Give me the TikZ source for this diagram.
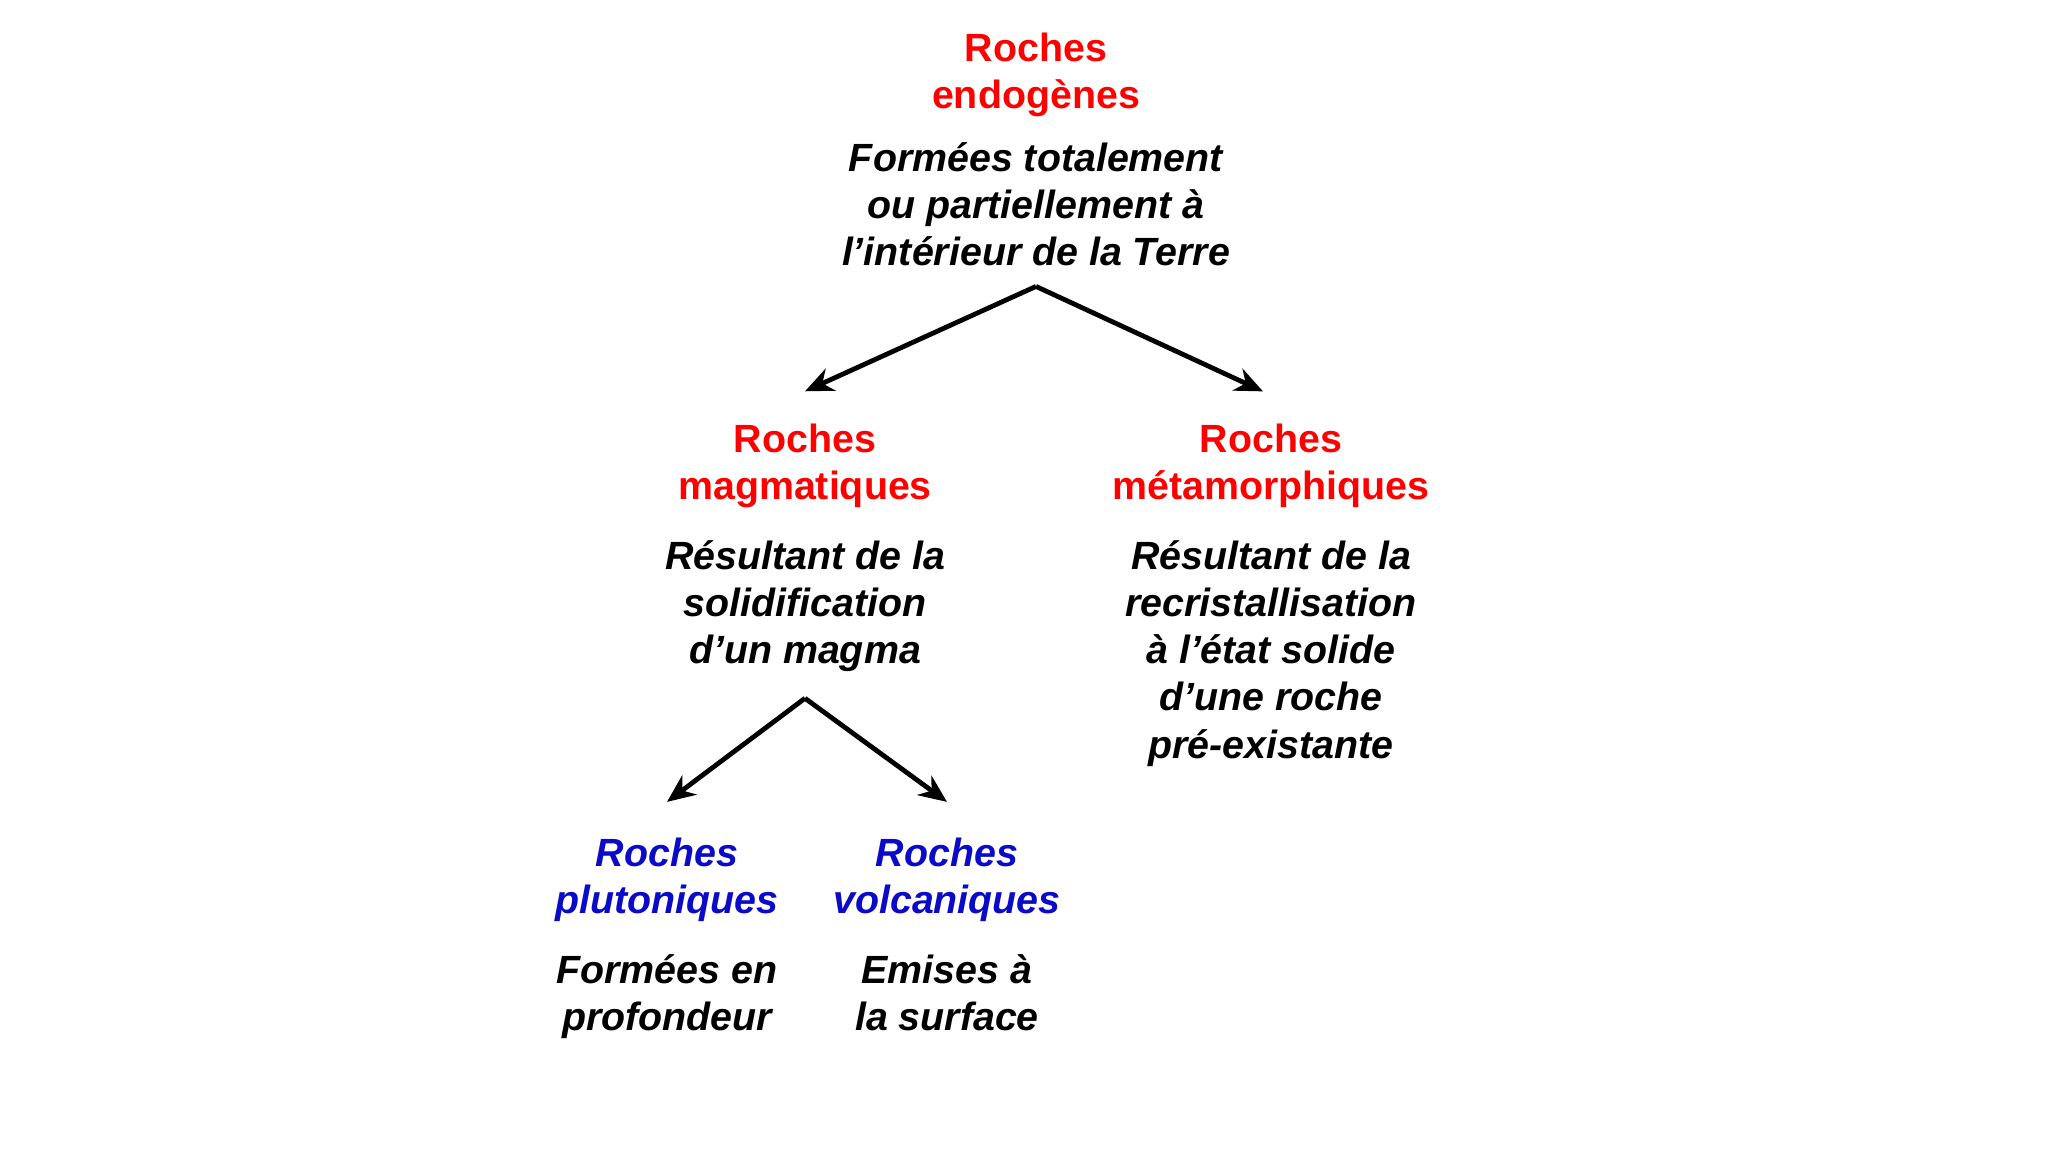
\documentclass[tikz,border=0pt]{standalone}
\usepackage{fontspec}
\setmainfont{Liberation Sans}
\usetikzlibrary{arrows.meta,positioning}
\definecolor{rougecolor}{RGB}{255,0,0}
\definecolor{bleucolor}{RGB}{10,10,200}

\begin{document}
\begin{tikzpicture}[
    famille/.style={align=center, inner sep=0pt, font=\fontsize{11.2}{13.4}\selectfont\bfseries, text=rougecolor},
    sousfamille/.style={famille, font=\fontsize{11.2}{13.4}\selectfont\bfseries\itshape, text=bleucolor},
    definition/.style={famille, font=\fontsize{11.2}{13.4}\selectfont\bfseries\itshape, text=black},
    branche/.style={-{Stealth[length=0.28cm,width=0.24cm,inset=0.09cm]}, line width=0.048cm, black}
]
\useasboundingbox (0,0) rectangle (20.48,11.52);

% Familles
\node[famille] (endo) at (10.36,10.775) {Roches\\endogènes};
\node[definition] (endodef) at (10.36,9.48) {Formées totalement\\ou partiellement à\\l’intérieur de la Terre};
\node[famille] (mag) at (8.05,6.86) {Roches\\magmatiques};
\node[famille] (meta) at (12.71,6.86) {Roches\\métamorphiques};
\node[definition] (magdef) at (8.05,5.46) {Résultant de la\\solidification\\d’un magma};
\node[definition] (metadef) at (12.71,4.985) {Résultant de la\\recristallisation\\à l’état solide\\d’une roche\\pré-existante};
\node[sousfamille] (pluto) at (6.67,2.725) {Roches\\plutoniques};
\node[sousfamille] (volca) at (9.47,2.725) {Roches\\volcaniques};
\node[definition] (plutodef) at (6.67,1.555) {Formées en\\profondeur};
\node[definition] (volcadef) at (9.47,1.595) {Emises à\\la surface};

% Branches
\coordinate (fork1) at ([yshift=-0.2cm]endodef.south);
\coordinate (fork2) at ([yshift=-0.26cm]magdef.south);
\draw[branche] (fork1) -- ([yshift=0.32cm]mag.north);
\draw[branche] (fork1) -- ([xshift=-0.08cm,yshift=0.32cm]meta.north);
\draw[branche] (fork2) -- ([yshift=0.35cm]pluto.north);
\draw[branche] (fork2) -- ([yshift=0.35cm]volca.north);

\end{tikzpicture}
\end{document}
